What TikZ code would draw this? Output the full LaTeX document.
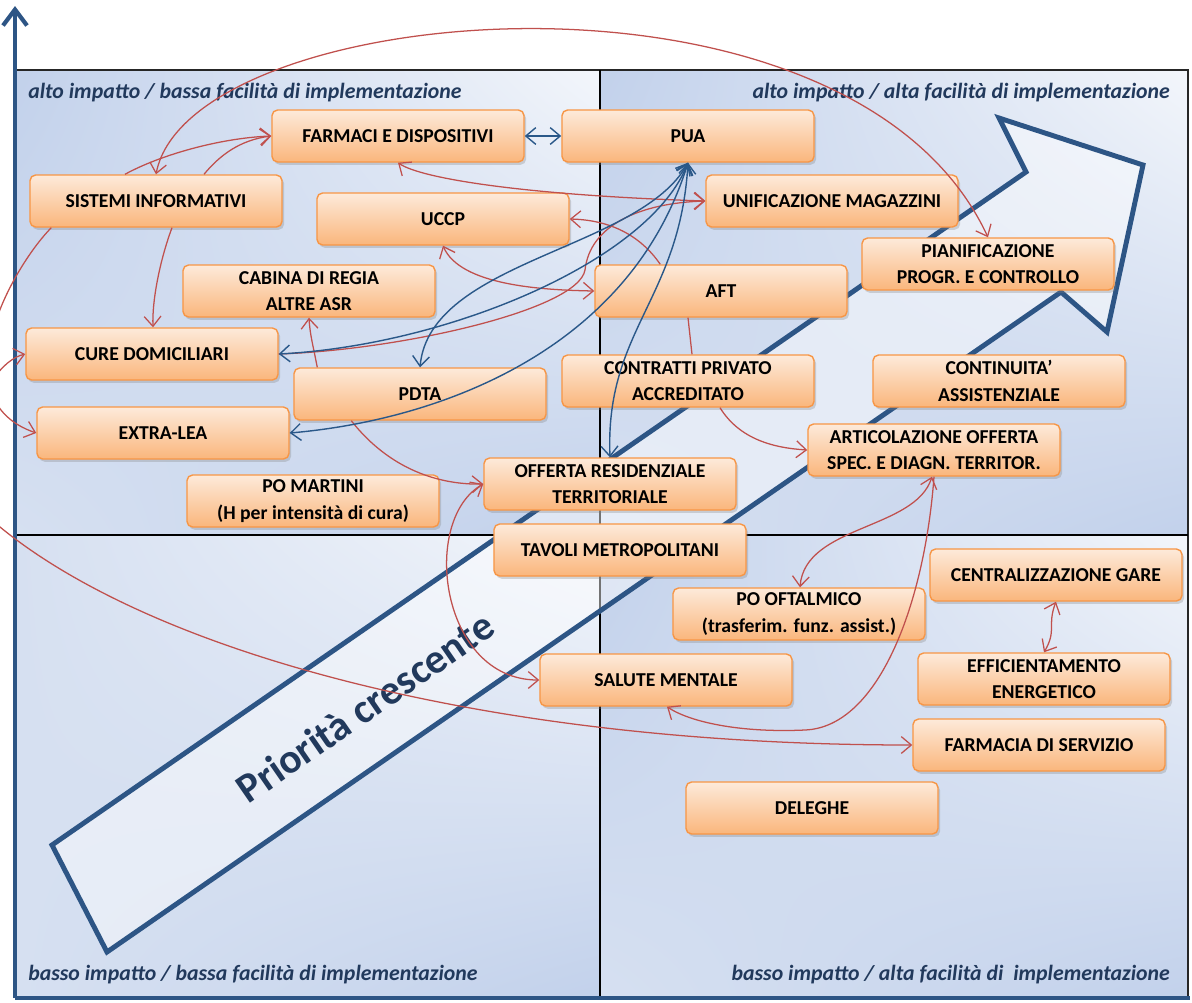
\documentclass[tikz,border=0pt]{standalone}
\usepackage{fontspec}
\setmainfont{Carlito}
\usetikzlibrary{arrows.meta,calc,shadows,shadings}

\definecolor{boxline}{HTML}{F79646}
\definecolor{boxtop}{HTML}{FDEADA}
\definecolor{boxbot}{HTML}{FAB67C}
\definecolor{linkred}{HTML}{C0504D}
\definecolor{linkblue}{HTML}{2A5889}
\definecolor{axisblue}{HTML}{2D5585}
\definecolor{labelblue}{HTML}{21395C}
\definecolor{bgdark}{HTML}{C2D1EB}
\definecolor{bgmid}{HTML}{D6E0F1}
\definecolor{bglight}{HTML}{F3F6FB}

\begin{document}
\begin{tikzpicture}[x=0.025cm, y=-0.025cm,
    >={Straight Barb[length=2.5mm,width=4.2mm]},
    box/.style={rectangle, rounded corners=4pt, draw=boxline, line width=1pt,
                top color=boxtop, bottom color=boxbot, align=center,
                minimum width=6.3cm, minimum height=1.3cm, inner sep=1pt,
                font=\fontsize{14}{19}\selectfont\bfseries,
                drop shadow={shadow xshift=1.5pt, shadow yshift=-2pt, opacity=0.3}},
    rlink/.style={draw=linkred, line width=0.9pt},
    blink/.style={draw=linkblue, line width=1pt},
    quad/.style={font=\fontsize{15.5}{17}\selectfont\bfseries\itshape, text=labelblue, inner sep=0pt}
]
\clip (0,0) rectangle (1192,1002);

% quadrants
\shade[upper left=bgdark, upper right=bglight, lower left=bgmid, lower right=bgdark] (15,70) rectangle (600,535);
\shade[upper left=bgdark, upper right=bglight, lower left=bgmid, lower right=bgdark] (600,70) rectangle (1188,535);
\shade[upper left=bgmid, upper right=bglight, lower left=bgmid, lower right=bgdark] (15,535) rectangle (600,998);
\shade[upper left=bgdark, upper right=bglight, lower left=bgmid, lower right=bgdark] (600,535) rectangle (1188,998);
\draw[black!85, line width=1.5pt] (15,70) -- (1188,70) -- (1188,998);
\draw[black, line width=1.1pt] (600,70) -- (600,998);
\draw[black, line width=1.5pt] (15,535) -- (1188,535);
\draw[axisblue, line width=3pt] (15,998) -- (1190,998);
\draw[axisblue, line width=3pt, -{Straight Barb[length=4mm,width=6mm]}] (15,998) -- (15,6);

% big arrow
\draw[axisblue, line width=3.5pt, fill=white, fill opacity=0.45, line join=miter]
  (52,845) -- (1026,172) -- (999,118) -- (1143,165) -- (1107,332) -- (1061,292) -- (107,952) -- cycle;
\node[rotate=34.6, font=\fontsize{29.5}{32}\selectfont\bfseries, text=labelblue] (prio) at (365,707) {Priorità crescente};

\node[quad, anchor=west] (q1) at (28,93) {alto impatto / bassa facilità di implementazione};
\node[quad, anchor=east] (q2) at (1170,93) {alto impatto / alta facilità di implementazione};
\node[quad, anchor=west] (q3) at (28,975) {basso impatto / bassa facilità di implementazione};
\node[quad, anchor=east] (q4) at (1170,975) {basso impatto / alta facilità di\ \ implementazione};

% boxes
\node[box] (farmaci) at (398,136) {FARMACI E DISPOSITIVI};
\node[box] (pua) at (688,136) {PUA};
\node[box] (sisinf) at (156,201) {SISTEMI INFORMATIVI};
\node[box] (uccp) at (443,219) {UCCP};
\node[box] (unifmag) at (832,201) {UNIFICAZIONE MAGAZZINI};
\node[box] (pianif) at (988,264) {PIANIFICAZIONE\\PROGR. E CONTROLLO};
\node[box] (cabina) at (309,291) {CABINA DI REGIA\\ALTRE ASR};
\node[box] (aft) at (721,291) {AFT};
\node[box] (curedom) at (152,354) {CURE DOMICILIARI};
\node[box] (pdta) at (420,394) {PDTA};
\node[box] (contratti) at (688,381) {CONTRATTI PRIVATO\\ACCREDITATO};
\node[box] (continuita) at (999,381) {CONTINUITA’\\ASSISTENZIALE};
\node[box] (extralea) at (163,433) {EXTRA-LEA};
\node[box] (articol) at (934,450) {ARTICOLAZIONE OFFERTA\\SPEC. E DIAGN. TERRITOR.};
\node[box] (offres) at (610,484) {OFFERTA RESIDENZIALE\\TERRITORIALE};
\node[box] (pomartini) at (313,501) {PO MARTINI\\(H per intensità di cura)};
\node[box] (tavoli) at (620,550) {TAVOLI METROPOLITANI};
\node[box] (centrgare) at (1056,575) {CENTRALIZZAZIONE GARE};
\node[box] (pooft) at (799,614) {PO OFTALMICO\\(trasferim. funz. assist.)};
\node[box] (salute) at (666,680) {SALUTE MENTALE};
\node[box] (effic) at (1044,679) {EFFICIENTAMENTO\\ENERGETICO};
\node[box] (farmserv) at (1039,745) {FARMACIA DI SERVIZIO};
\node[box] (deleghe) at (812,808) {DELEGHE};

% red links
\draw[rlink, <->] (sisinf.north) .. controls (190,0) and (850,-60) .. (pianif.north);
\draw[rlink, ->] ($(sisinf.north)+(-31,0)$) .. controls (160,155) and (220,138) .. (farmaci.west);
\draw[rlink, ->] ($(sisinf.north)+(48,0)$) .. controls (220,155) and (240,140) .. (farmaci.west);
\draw[rlink, ->] ($(sisinf.south)+(16,0)$) .. controls (160,260) and (152,300) .. ($(curedom.north)+(1,0)$);
\draw[rlink, ->] ($(sisinf.south west)+(22,0)$) .. controls (10,270) and (-60,400) .. (extralea.west);
\draw[rlink, <->] (curedom.west) .. controls (-20,365) and (-60,480) .. (0,527)
  .. controls (150,650) and (480,745) .. (farmserv.west);
\draw[rlink, ->] (curedom.east) .. controls (400,350) and (578,310) .. (585,270)
  .. controls (590,225) and (640,203) .. (unifmag.west);
\draw[rlink, <->] (farmaci.south) .. controls (420,178) and (520,195) .. (unifmag.west);
\draw[rlink, ->] ($(aft.north west)+(66,0)$) .. controls (640,235) and (610,220) .. (uccp.east);
\draw[rlink, <->] (uccp.south) .. controls (460,285) and (540,290) .. (aft.west);
\draw[rlink] ($(aft.south)+(-33,0)$) -- ($(contratti.north)+(4,0)$);
\draw[rlink, ->] ($(contratti.south)+(32,0)$) .. controls (740,440) and (775,448) .. (articol.west);
\draw[rlink, ->] ($(pdta.north west)+(24,0)$) .. controls (313,345) and (310,335) .. (cabina.south);
\draw[rlink, ->] ($(pdta.south west)+(58,0)$) .. controls (390,470) and (440,485) .. (offres.west);
\draw[rlink, <->] (offres.west) .. controls (420,520) and (440,680) .. (salute.west);
\draw[rlink, <->] ($(articol.south)+(-2,0)$) .. controls (915,530) and (805,525) .. ($(pooft.north)+(1,0)$);
\draw[rlink, ->] (articol.south) .. controls (925,600) and (880,727) .. (805,730)
  .. controls (740,733) and (690,722) .. ($(salute.south)+(1,0)$);
\draw[rlink, <->] (centrgare.south) .. controls (1047,625) and (1057,630) .. (effic.north);

% blue links
\draw[blink, <->] (farmaci.east) -- (pua.west);
\draw[blink, <->] (pua.south) .. controls (650,260) and (450,345) .. (curedom.east);
\draw[blink, <->] (pua.south) .. controls (640,250) and (430,260) .. (pdta.north);
\draw[blink, <->] (pua.south) .. controls (630,350) and (440,420) .. (extralea.east);
\draw[blink, <->] (pua.south) .. controls (680,300) and (605,330) .. (offres.north);
\end{tikzpicture}
\end{document}
